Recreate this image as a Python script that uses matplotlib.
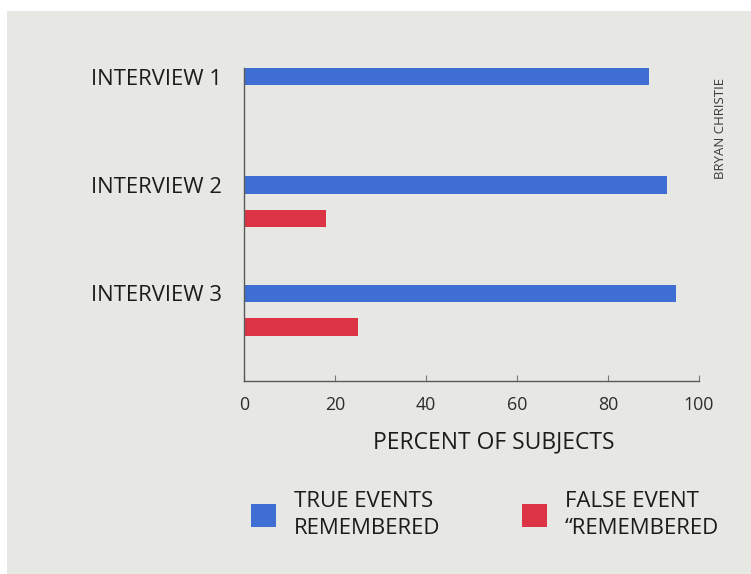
import numpy as np
import matplotlib.pyplot as plt
from matplotlib.patches import Rectangle

# data
interviews = ['INTERVIEW 1', 'INTERVIEW 2', 'INTERVIEW 3']
true_events = [89, 93, 95]
false_events = [0, 18, 25]
xticks = [0, 20, 40, 60, 80, 100]

blue = '#3f6fd2'
red = '#dc3444'
font = ['Open Sans', 'DejaVu Sans']
plt.rcParams['font.family'] = font

fig = plt.figure(figsize=(7.51, 5.74), dpi=100, facecolor='white')
# textured grey panel behind the chart
fig.patches.append(Rectangle((7/751, 0), 1, 1 - 11/574, transform=fig.transFigure,
                             facecolor='#e7e8e3', edgecolor='none', zorder=-10))

ax = fig.add_axes([244/751, 1 - 381/574, 455/751, 313/574])
ax.set_facecolor('none')

y = np.arange(len(interviews))
h = 0.16
b1 = ax.barh(y, true_events, height=h, color=blue, label='TRUE EVENTS\nREMEMBERED')
fe = np.array(false_events, dtype=float)
b2 = ax.barh(y[1:] + 0.31, fe[1:], height=h, color=red, label='FALSE EVENT\n\u201cREMEMBERED')

ax.set_xlim(0, 100)
ax.set_ylim(2.81, -0.08)
ax.set_yticks(y)
ax.set_yticklabels(interviews, fontsize=15.8, color='#1c1c1c')
ax.tick_params(axis='y', length=0, pad=15.5)
ax.set_xticks(xticks)
ax.set_xticklabels([str(t) for t in xticks], fontsize=12.8, color='#2c2c2c')
ax.tick_params(axis='x', direction='in', length=4, color='#777777', pad=11)

for s in ['top', 'right']:
    ax.spines[s].set_visible(False)
for s in ['left', 'bottom']:
    ax.spines[s].set_color('#5a5a5a')
    ax.spines[s].set_linewidth(1.0)

fig.text(494/751, 1 - 442/574, 'PERCENT OF SUBJECTS', ha='center', va='center',
         fontsize=16.5, color='#1c1c1c')

leg = fig.legend(handles=[b1, b2], loc='center left', bbox_to_anchor=(231/751, 1 - 515/574),
                 ncol=2, frameon=False, fontsize=16, handlelength=1.12, handleheight=1.2,
                 handletextpad=0.8, columnspacing=3.7, labelcolor='#1c1c1c')
for t in leg.get_texts():
    t.set_linespacing(1.35)

fig.text(721/751, 1 - 128/574, 'BRYAN CHRISTIE', rotation=90, ha='center', va='center',
         fontsize=9.5, color='#3a3a3a')

fig.savefig('out.png', dpi=100, facecolor=fig.get_facecolor())
